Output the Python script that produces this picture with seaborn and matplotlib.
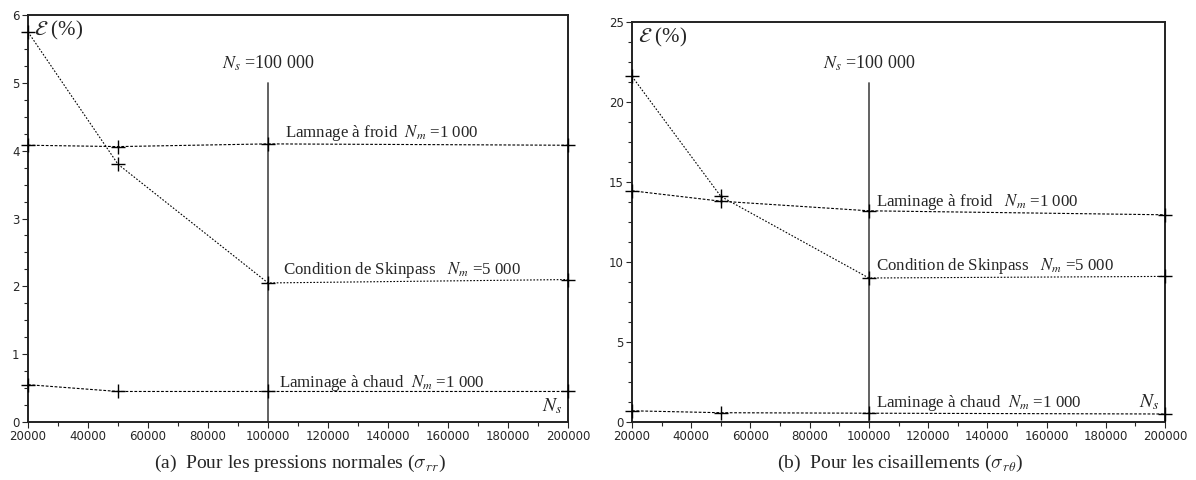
import numpy as np
import pandas as pd
import seaborn as sns
import matplotlib.pyplot as plt
from matplotlib.ticker import MultipleLocator

sns.set_style("ticks")
plt.rcParams['font.family'] = ['DejaVu Sans']
plt.rcParams['mathtext.fontset'] = 'stix'

## data
ns = [20000, 50000, 100000, 200000]

# (a) pressions normales
rr_froid = [4.08, 4.06, 4.10, 4.08]
rr_skin = [5.75, 3.80, 2.05, 2.10]
rr_chaud = [0.55, 0.45, 0.45, 0.45]

# (b) cisaillements
rt_froid = [14.45, 13.8, 13.2, 12.95]
rt_skin = [21.6, 14.1, 9.0, 9.1]
rt_chaud = [0.70, 0.58, 0.55, 0.50]

ns_ref = 100000
ref_top = [5.0, 21.2]
ylims = [6, 25]
ymajor = [1, 5]

lab_froid_a = "Lamnage à froid  $N_m$ =1 000"
lab_froid_b = "Laminage à froid   $N_m$ =1 000"
lab_skin = "Condition de Skinpass   $N_m$ =5 000"
lab_chaud = "Laminage à chaud  $N_m$ =1 000"
captions = [r"(a)  Pour les pressions normales ($\sigma_{rr}$)",
            r"(b)  Pour les cisaillements ($\sigma_{r\theta}$)"]

serif = ['Liberation Serif', 'DejaVu Serif']

fig = plt.figure(figsize=(11.96, 4.8), dpi=100)
ax1 = fig.add_axes([28/1196, 58/480, 540/1196, 407/480])
ax2 = fig.add_axes([632/1196, 58/480, 533/1196, 400/480])

panels = [
    (ax1, rr_froid, rr_skin, rr_chaud),
    (ax2, rt_froid, rt_skin, rt_chaud),
]

for i, (ax, froid, skin, chaud) in enumerate(panels):
    df = pd.DataFrame({"Ns": ns * 3,
                       "eps": froid + skin + chaud,
                       "cas": ["froid"] * 4 + ["skin"] * 4 + ["chaud"] * 4})
    for cas, ls in [("froid", (0, (2.5, 1.5))), ("skin", (0, (1.5, 1.5))), ("chaud", (0, (2.5, 1.5)))]:
        sub = df[df.cas == cas]
        sns.lineplot(data=sub, x="Ns", y="eps", ax=ax, color="black", lw=0.8,
                     linestyle=ls, marker="+", markersize=10, mew=1.0,
                     mec="black", clip_on=False, zorder=3)
    # vertical reference at Ns = 100 000
    ax.plot([ns_ref, ns_ref], [0, ref_top[i]], color="#555555", lw=1.3, zorder=2)

    ax.set_xlim(20000, 200000)
    ax.set_ylim(0, ylims[i])
    ax.xaxis.set_major_locator(MultipleLocator(20000))
    ax.xaxis.set_minor_locator(MultipleLocator(10000))
    ax.yaxis.set_major_locator(MultipleLocator(ymajor[i]))
    ax.yaxis.set_minor_locator(MultipleLocator(ymajor[i] / 4))
    ax.tick_params(which="major", length=4, width=0.8, labelsize=8.5, pad=2, direction="out")
    ax.tick_params(which="minor", length=3, width=0.8, direction="out")
    ax.set_xlabel("")
    ax.set_ylabel("")
    for sp in ax.spines.values():
        sp.set_visible(True)
        sp.set_linewidth(1.4)
        sp.set_color("#222222")

    ax.text(0.012, 0.99, r"$\mathcal{E}$ (%)", transform=ax.transAxes, ha="left", va="top",
            fontsize=15, family=serif)
    ax.text(ns_ref, ref_top[i] + ylims[i] * 0.025, "$N_s$ =100 000", ha="center", va="bottom",
            fontsize=13, family=serif)

    fig.text((300 + 600 * i) / 1196, 17 / 480, captions[i], ha="center", va="center",
             fontsize=14, family=serif, math_fontfamily="cm")

ax1.text(0.99, 0.015, "$N_s$", transform=ax1.transAxes, ha="right", va="bottom",
         fontsize=14, family=serif)
ax2.text(0.99, rt_chaud[3] + 0.4, "$N_s$", transform=ax2.get_yaxis_transform(), ha="right",
         va="baseline", fontsize=14, family=serif)

# labels, panel (a)
ax1.text(105600, rr_froid[2] + 0.1, lab_froid_a, fontsize=12.2, family=serif, va="baseline")
ax1.text(105000, rr_skin[2] + 0.13, lab_skin, fontsize=12.2, family=serif, va="baseline")
ax1.text(103700, rr_chaud[2] + 0.07, lab_chaud, fontsize=12.2, family=serif, va="baseline")

# labels, panel (b)
ax2.text(102400, rt_froid[2] + 0.3, lab_froid_b, fontsize=12.2, family=serif, va="baseline")
ax2.text(102400, rt_skin[2] + 0.5, lab_skin, fontsize=12.2, family=serif, va="baseline")
ax2.text(102400, rt_chaud[2] + 0.37, lab_chaud, fontsize=12.2, family=serif, va="baseline")

plt.savefig("out.png", dpi=100)
